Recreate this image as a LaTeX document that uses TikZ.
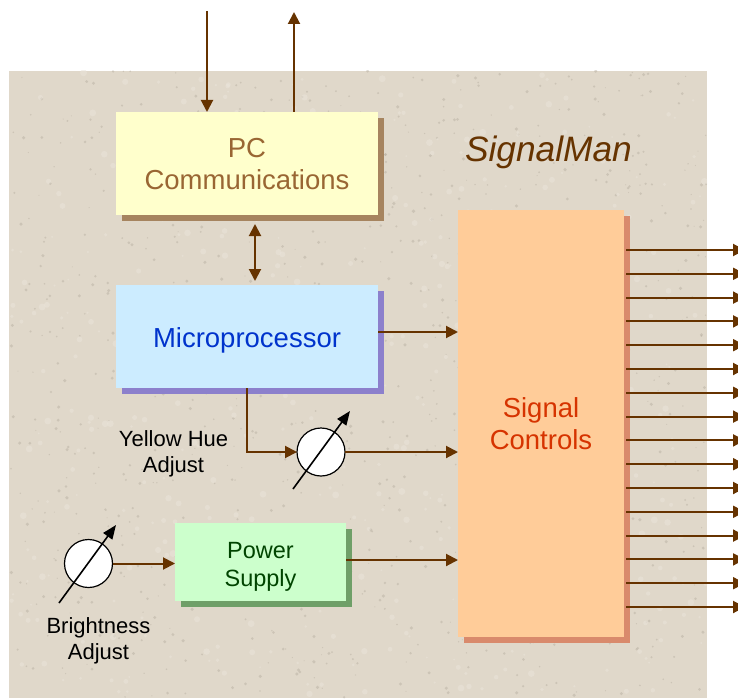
\documentclass[tikz,border=0pt]{standalone}
\usepackage{fontspec}
\setmainfont{Liberation Sans}
\usetikzlibrary{arrows.meta,shadows,calc}
\definecolor{paper}{HTML}{E0D8CA}
\definecolor{speckdark}{HTML}{B5AC9E}
\definecolor{specklight}{HTML}{EAE4DA}
\definecolor{wire}{HTML}{663300}
\definecolor{pcfill}{HTML}{FFFFCC}
\definecolor{pcshadow}{HTML}{A6845F}
\definecolor{pctext}{HTML}{996633}
\definecolor{mpfill}{HTML}{CCECFF}
\definecolor{mpshadow}{HTML}{8C80CC}
\definecolor{mptext}{HTML}{0033CC}
\definecolor{psfill}{HTML}{CCFFCC}
\definecolor{psshadow}{HTML}{6F9F68}
\definecolor{pstext}{HTML}{004400}
\definecolor{scfill}{HTML}{FFCC99}
\definecolor{scshadow}{HTML}{D98A6C}
\definecolor{sctext}{HTML}{D63300}
\tikzset{
  x=1pt,y=-1pt,
  blockbox/.style={inner sep=0pt,outer sep=0pt,align=center,anchor=center},
  shadowed/.style={general shadow={shadow xshift=6pt,shadow yshift=-6pt,fill=#1}},
  bigtext/.style={font=\fontsize{27.5}{32}\selectfont},
  midtext/.style={font=\fontsize{23.5}{28}\selectfont},
  smalltext/.style={font=\fontsize{22}{26}\selectfont,text=black,align=center,inner sep=0pt},
  wireline/.style={draw=wire,line width=2pt},
  wirearrow/.style={wireline,-{Triangle[length=12pt,width=12pt]}},
  wiredouble/.style={wireline,{Triangle[length=12pt,width=12pt]}-{Triangle[length=12pt,width=12pt]}},
  knob/.style={circle,draw=black,line width=1.2pt,fill=white,minimum size=48pt,inner sep=0pt,outer sep=0pt},
  knobarrow/.style={draw=black,line width=1.6pt,-{Triangle[length=14pt,width=11pt]}},
}
\begin{document}
\begin{tikzpicture}
\useasboundingbox (0,0) rectangle (738,698);
\clip (0,0) rectangle (738,698);
% textured panel
\fill[paper] (9,71) rectangle (707,698);
\pgfmathsetseed{4242}
\begin{scope}
\clip (9,71) rectangle (707,698);
\foreach \i in {1,...,900}{
  \pgfmathsetmacro{\px}{9+698*rnd}
  \pgfmathsetmacro{\py}{71+627*rnd}
  \pgfmathsetmacro{\pr}{0.5+1.3*rnd}
  \fill[speckdark,opacity=.45] (\px,\py) circle[radius=\pr];
}
\foreach \i in {1,...,500}{
  \pgfmathsetmacro{\px}{9+698*rnd}
  \pgfmathsetmacro{\py}{71+627*rnd}
  \pgfmathsetmacro{\pr}{1+2.5*rnd}
  \fill[specklight,opacity=.5] (\px,\py) circle[radius=\pr];
}
\end{scope}
% blocks
\node[blockbox,shadowed=pcshadow,fill=pcfill,minimum width=262pt,minimum height=103pt,bigtext,text=pctext] (pc) at (247,163.5) {\rule{0pt}{20pt}PC\\Communications};
\node[blockbox,shadowed=mpshadow,fill=mpfill,minimum width=262pt,minimum height=103pt,bigtext,text=mptext] (mp) at (247,336.5) {\rule{0pt}{28pt}Microprocessor};
\node[blockbox,shadowed=psshadow,fill=psfill,minimum width=171pt,minimum height=78pt,midtext,text=pstext] (ps) at (260.5,562) {\rule{0pt}{26.5pt}Power\\Supply};
\node[blockbox,shadowed=scshadow,fill=scfill,minimum width=166pt,minimum height=427pt,bigtext,text=sctext] (sc) at (541,423.5) {Signal\\Controls};
\node[font=\itshape\fontsize{35.3}{40}\selectfont,text=wire,inner sep=0pt] (title) at (548.5,152) {SignalMan};
% knobs
\node[knob] (hue) at (321,452) {};
\node[knob] (bright) at (88.5,563.5) {};
\node[smalltext] (huelabel) at (173.5,454) {Yellow Hue\\Adjust};
\node[smalltext] (brightlabel) at (98.5,641) {Brightness\\Adjust};
\coordinate (huetail) at (293,489);
\coordinate (huehead) at (350,411);
\coordinate (brighttail) at (59,603);
\coordinate (brighthead) at (116,525);
\draw[knobarrow] (huetail) -- (huehead);
\draw[knobarrow] (brighttail) -- (brighthead);
% connectors
\coordinate (pcin) at (207,11);
\coordinate (pcout) at (294,12);
\draw[wirearrow] (pcin) -- (pcin |- pc.north);
\draw[wirearrow] (pcout |- pc.north) -- (pcout);
\coordinate (linktop) at (255,224);
\coordinate (linkbot) at (255,281);
\draw[wiredouble] (linktop) -- (linkbot);
\coordinate (mpy) at (0,332);
\draw[wirearrow] (mp.east |- mpy) -- (sc.west |- mpy);
\coordinate (huedrop) at (247,0);
\draw[wirearrow] (huedrop |- mp.south) |- (hue.west);
\draw[wirearrow] (hue.east) -- (sc.west |- hue.east);
\coordinate (psy) at (0,560);
\draw[wirearrow] (ps.east |- psy) -- (sc.west |- psy);
\draw[wirearrow] (bright.east) -- (ps.west |- bright.east);
% outputs
\foreach \k in {0,...,15}{
  \pgfmathsetmacro{\oy}{250+23.8*\k}
  \coordinate (outa) at (626,\oy);
  \coordinate (outb) at (745,\oy);
  \draw[wirearrow] (outa) -- (outb);
}
\end{tikzpicture}
\end{document}
